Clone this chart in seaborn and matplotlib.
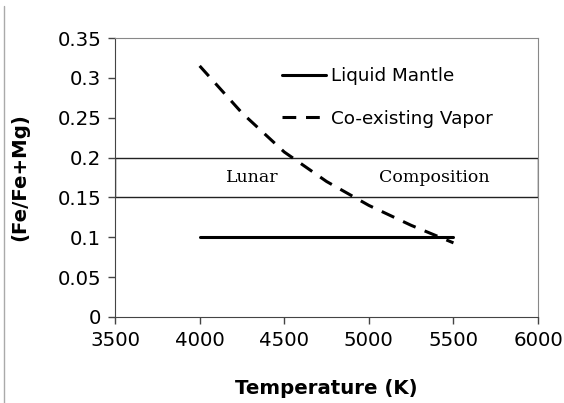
import matplotlib
matplotlib.use("Agg")
import matplotlib.pyplot as plt
from matplotlib.lines import Line2D
from matplotlib.patches import Rectangle
import pandas as pd
import seaborn as sns

sns.set_style("ticks")
plt.rcParams['font.family'] = ['DejaVu Sans']
plt.rcParams['text.color'] = "black"
plt.rcParams['axes.labelcolor'] = "black"
plt.rcParams['xtick.labelcolor'] = "black"
plt.rcParams['ytick.labelcolor'] = "black"

# data
mantle_T = [4000, 5500]
mantle_fe = [0.1, 0.1]
vapor_T = [4000, 4250, 4500, 4750, 5000, 5250, 5500]
vapor_fe = [0.315, 0.256, 0.207, 0.170, 0.140, 0.115, 0.093]
x_ticks = [3500, 4000, 4500, 5000, 5500, 6000]
y_ticks = [0, 0.05, 0.1, 0.15, 0.2, 0.25, 0.3, 0.35]
lunar_band = (0.15, 0.2)

mantle = pd.DataFrame({"T": mantle_T, "fe": mantle_fe})
vapor = pd.DataFrame({"T": vapor_T, "fe": vapor_fe})

fig = plt.figure(figsize=(5.64, 4.03), dpi=100)
ax = fig.add_axes([0.204, 0.2134, 0.75, 0.6923])

sns.lineplot(data=mantle, x="T", y="fe", color="black", linewidth=2.2,
             label="Liquid Mantle", ax=ax)
sns.lineplot(data=vapor, x="T", y="fe", color="black", linewidth=2.2,
             linestyle=(0, (4.5, 3.2)), label="Co-existing Vapor", ax=ax)

# lunar composition box
ax.add_patch(Rectangle((3500, lunar_band[0]), 2500,
                       lunar_band[1] - lunar_band[0],
                       fill=False, edgecolor="#222222", linewidth=1.0,
                       zorder=1))
ax.text(4310, 0.175, "Lunar", family="DejaVu Serif", fontsize=12.5,
        ha="center", va="center")
ax.text(5385, 0.175, "Composition", family="DejaVu Serif", fontsize=12.5,
        ha="center", va="center")

ax.set_xlim(3500, 6000)
ax.set_ylim(0, 0.35)
ax.set_xticks(x_ticks)
ax.set_yticks(y_ticks)
ax.set_yticklabels(["{:g}".format(v) for v in y_ticks])
ax.tick_params(axis="both", labelsize=14.2, length=5, width=1,
               color="#444444", pad=5)

for side in ["left", "bottom"]:
    ax.spines[side].set_color("#444444")
for side in ["top", "right"]:
    ax.spines[side].set_visible(True)
    ax.spines[side].set_color("#888888")

ax.set_xlabel("Temperature (K)", fontsize=14.2, fontweight="bold",
              labelpad=21)
ax.set_ylabel("(Fe/Fe+Mg)", fontsize=14.2, fontweight="bold", labelpad=20)

leg = ax.legend(loc="upper left", bbox_to_anchor=(0.355, 0.955), frameon=False,
                fontsize=13.2, handlelength=2.4, handletextpad=0.3,
                labelspacing=1.35)

# outer chart border on the left edge
fig.add_artist(Line2D([0.007, 0.007], [0.0, 0.985], color="#aaaaaa",
                      linewidth=1, transform=fig.transFigure))

fig.savefig("out.png", dpi=100)
